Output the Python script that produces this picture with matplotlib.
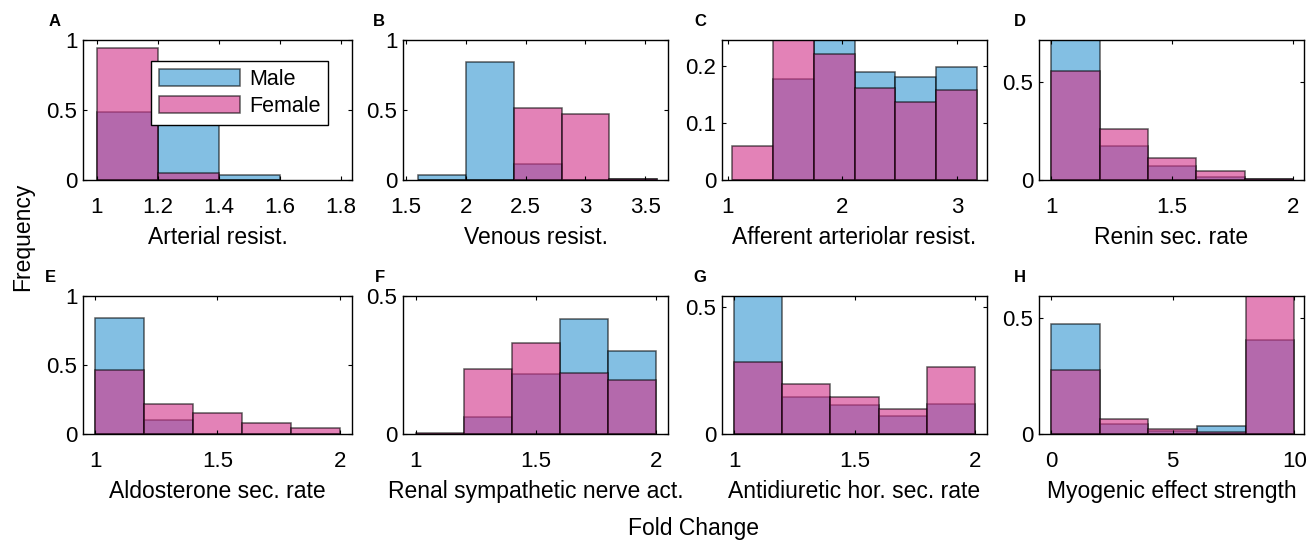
import matplotlib
matplotlib.use("Agg")
import matplotlib.pyplot as plt
from matplotlib.ticker import FormatStrFormatter

plt.rcParams['font.family'] = ['Liberation Sans', 'DejaVu Sans']

# bin left edges, widths and heights (frequency) per panel
edges_a = [1.0, 1.2, 1.4]
male_a = [0.488, 0.417, 0.036]
female_a = [0.94, 0.052, 0.0]

edges_b = [1.6, 2.0, 2.4, 2.8, 3.2]
male_b = [0.036, 0.845, 0.112, 0.0, 0.005]
female_b = [0.0, 0.0, 0.517, 0.469, 0.005]

edges_c = [1.04, 1.395, 1.75, 2.105, 2.46, 2.815]
male_c = [0.0, 0.177, 0.27, 0.189, 0.181, 0.198]
female_c = [0.060, 0.27, 0.222, 0.162, 0.137, 0.158]

edges_d = [1.0, 1.2, 1.4, 1.6, 1.8]
male_d = [0.78, 0.172, 0.072, 0.017, 0.003]
female_d = [0.556, 0.258, 0.114, 0.044, 0.003]

edges_e = [1.0, 1.2, 1.4, 1.6, 1.8]
male_e = [0.843, 0.101, 0.003, 0.0, 0.0]
female_e = [0.464, 0.215, 0.150, 0.077, 0.041]

edges_f = [1.0, 1.2, 1.4, 1.6, 1.8]
male_f = [0.0, 0.060, 0.216, 0.417, 0.301]
female_f = [0.003, 0.235, 0.331, 0.220, 0.196]

edges_g = [1.0, 1.2, 1.4, 1.6, 1.8]
male_g = [0.60, 0.147, 0.114, 0.072, 0.116]
female_g = [0.281, 0.195, 0.144, 0.097, 0.262]

edges_h = [0, 2, 4, 6, 8]
male_h = [0.471, 0.043, 0.015, 0.036, 0.404]
female_h = [0.275, 0.064, 0.023, 0.010, 0.65]

paneles = [
    ("A", "Arterial resist.", edges_a, 0.2, male_a, female_a, (0.955, 1.836), 1.0, [1, 1.2, 1.4, 1.6, 1.8], [0, 0.5, 1]),
    ("B", "Venous resist.", edges_b, 0.4, male_b, female_b, (1.475, 3.69), 1.0, [1.5, 2, 2.5, 3, 3.5], [0, 0.5, 1]),
    ("C", "Afferent arteriolar resist.", edges_c, 0.355, male_c, female_c, (0.95, 3.26), 0.246, [1, 2, 3], [0, 0.1, 0.2]),
    ("D", "Renin sec. rate", edges_d, 0.2, male_d, female_d, (0.95, 2.045), 0.712, [1, 1.5, 2], [0, 0.5]),
    ("E", "Aldosterone sec. rate", edges_e, 0.2, male_e, female_e, (0.95, 2.05), 1.0, [1, 1.5, 2], [0, 0.5, 1]),
    ("F", "Renal sympathetic nerve act.", edges_f, 0.2, male_f, female_f, (0.946, 2.05), 0.5, [1, 1.5, 2], [0, 0.5]),
    ("G", "Antidiuretic hor. sec. rate", edges_g, 0.2, male_g, female_g, (0.95, 2.05), 0.542, [1, 1.5, 2], [0, 0.5]),
    ("H", "Myogenic effect strength", edges_h, 2.0, male_h, female_h, (-0.5, 10.4), 0.593, [0, 5, 10], [0, 0.5]),
]

W, H = 1308, 540
lefts = [83, 403, 722, 1039]
widths = [269, 265, 265, 265]
tops = [40, 296]
heights = [140, 138]
letras_x = [[55, 379, 700, 1020], [50, 380, 700, 1020]]

color_male = '#3798D3'
color_female = '#D3358B'
alpha = 0.62

fig = plt.figure(figsize=(W / 100, H / 100), dpi=100)

for i, (letra, xlabel, edges, ancho, male, female, xlim, ymax, xt, yt) in enumerate(paneles):
    fila, col = divmod(i, 4)
    x0 = lefts[col] / W
    y0 = 1 - (tops[fila] + heights[fila]) / H
    ax = fig.add_axes([x0, y0, widths[col] / W, heights[fila] / H])
    ax.bar(edges, male, width=ancho, align='edge', color=color_male, alpha=alpha,
           edgecolor='black', linewidth=1.1, label='Male')
    ax.bar(edges, female, width=ancho, align='edge', color=color_female, alpha=alpha,
           edgecolor='black', linewidth=1.1, label='Female')
    ax.set_xlim(xlim)
    ax.set_ylim(0, ymax)
    ax.set_xticks(xt)
    ax.set_yticks(yt)
    ax.xaxis.set_major_formatter(FormatStrFormatter('%g'))
    ax.yaxis.set_major_formatter(FormatStrFormatter('%g'))
    ax.tick_params(direction='in', top=True, right=True, length=3, width=0.8,
                   labelsize=16)
    ax.tick_params(axis='x', pad=12)
    ax.tick_params(axis='y', pad=4)
    ax.set_xlabel(xlabel, fontsize=16.5, labelpad=6)
    for s in ax.spines.values():
        s.set_linewidth(1.0)
    # letra del panel
    fig.text(letras_x[fila][col] / W, 1 - (tops[fila] - 19) / H, letra,
             fontsize=12, fontweight='bold', ha='center', va='center')
    if letra == "A":
        leg = ax.legend(loc='upper right', bbox_to_anchor=(0.911, 0.85), borderaxespad=0,
                        fontsize=15.5, handlelength=3.8, handleheight=0.85, fancybox=False,
                        framealpha=1, edgecolor='black', borderpad=0.35, labelspacing=0.3,
                        handletextpad=0.4)
        leg.get_frame().set_linewidth(1.0)

fig.text(23 / W, 1 - 237 / H, "Frequency", rotation=90, fontsize=16.5, ha='center', va='center')
fig.text(693 / W, 1 - 529 / H, "Fold Change", fontsize=16.5, ha='center', va='center')

fig.savefig("out.png", dpi=100)
